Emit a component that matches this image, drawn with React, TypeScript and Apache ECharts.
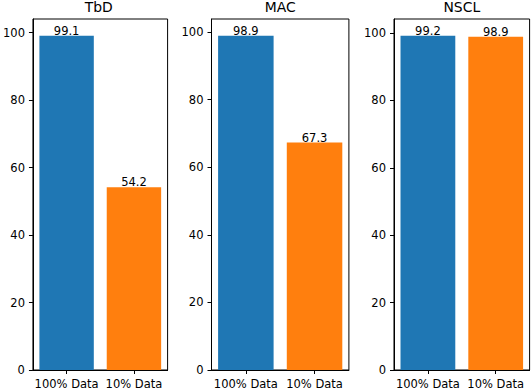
import React, { useEffect, useRef } from "react";
import * as echarts from "echarts";

const categories = ["100% Data", "10% Data"];
const titles = ["TbD", "MAC", "NSCL"];
const tbdValues = [99.1, 54.2];
const macValues = [98.9, 67.3];
const nsclValues = [99.2, 98.9];
const yTicks = [0, 20, 40, 60, 80, 100];
const barColors = ["#1f77b4", "#ff7f0e"];

const FONT = "DejaVu Sans";

export default function App() {
  const ref = useRef<HTMLDivElement>(null);
  useEffect(() => {
    if (!ref.current) return;
    const chart = echarts.init(ref.current, null, { renderer: "svg" });
    const seriesData = [tbdValues, macValues, nsclValues];
    const grids = [
      { left: 29.7, width: 137.9 },
      { left: 211.5, width: 137.4 },
      { left: 394, width: 135.6 },
    ];
    const option: any = {
      animation: false,
      backgroundColor: "#ffffff",
      graphic: grids.map((g, i) => ({
        type: "text",
        x: g.left + g.width / 2,
        y: 0,
        style: {
          text: titles[i],
          fontFamily: FONT,
          fontSize: 13.9,
          lineHeight: 14,
          fill: "#000",
          align: "center",
          verticalAlign: "top",
        },
      })),
      grid: grids.map((g) => ({
        left: g.left,
        width: g.width,
        top: 19,
        height: 352,
        show: true,
        borderColor: "#000",
        borderWidth: 1,
        backgroundColor: "transparent",
      })),
      xAxis: grids.map((_, i) => ({
        type: "category",
        gridIndex: i,
        data: categories,
        boundaryGap: true,
        axisLine: { show: true, lineStyle: { color: "#000", width: 1 } },
        axisTick: { show: true, alignWithLabel: true, length: 4, lineStyle: { color: "#000" } },
        axisLabel: { color: "#000", fontFamily: FONT, fontSize: 11.5, margin: 8, interval: 0 },
        splitLine: { show: false },
      })),
      yAxis: seriesData.map((vals, i) => ({
        type: "value",
        gridIndex: i,
        min: 0,
        max: Math.max(...vals) * 1.05,
        axisLine: { show: true, lineStyle: { color: "#000", width: 1 } },
        axisTick: { show: true, length: 4, lineStyle: { color: "#000" }, customValues: yTicks },
        axisLabel: {
          color: "#000",
          fontFamily: FONT,
          fontSize: 11.5,
          margin: 8,
          customValues: yTicks,
        },
        splitLine: { show: false },
      })),
      series: seriesData.map((vals, i) => ({
        type: "bar",
        xAxisIndex: i,
        yAxisIndex: i,
        barWidth: "80.8%",
        data: vals.map((v, j) => ({ value: v, itemStyle: { color: barColors[j] } })),
        label: {
          show: true,
          position: "top",
          distance: -1,
          color: "#000",
          fontFamily: FONT,
          fontSize: 11.5,
          formatter: (p: any) => Number(p.value).toFixed(1),
        },
      })),
    };
    chart.setOption(option);
    return () => chart.dispose();
  }, []);
  return <div ref={ref} style={{ width: 532, height: 390, position: "absolute", left: 0, top: 0 }} />;
}
